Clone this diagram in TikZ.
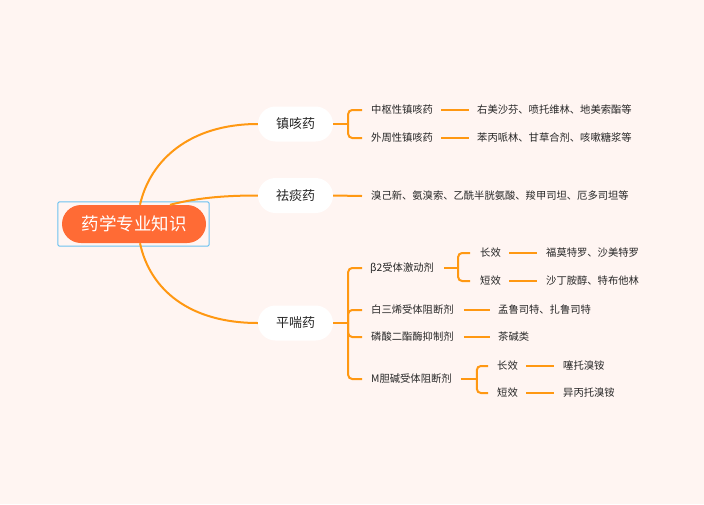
\documentclass[tikz,border=0pt]{standalone}
\usepackage{fontspec}
\setmainfont{Noto Sans CJK SC}
\definecolor{bg}{HTML}{FFF5F2}
\definecolor{rootc}{HTML}{FF6B35}
\definecolor{linec}{HTML}{FF9812}
\definecolor{txt}{HTML}{262626}
\definecolor{selc}{HTML}{6CC2F0}
\begin{document}
\begin{tikzpicture}[x=1pt,y=-1pt,
  rootnode/.style={fill=rootc, text=white, rounded corners=19pt, minimum width=144pt, minimum height=38pt, inner sep=0pt, font=\fontsize{17.5}{20}\selectfont},
  topic/.style={fill=white, text=txt, rounded corners=17.5pt, minimum width=75pt, minimum height=35pt, inner sep=0pt, font=\fontsize{13}{15}\selectfont},
  leaf/.style={anchor=west, inner xsep=0pt, inner ysep=2pt, text=txt, font=\fontsize{10.3}{12}\selectfont},
  link/.style={draw=linec, line width=2pt},
  brk/.style={link, rounded corners=4pt}]
\fill[bg] (0,0) rectangle (704,504);
\useasboundingbox (0,0) rectangle (704,504);

% nodes
\node[rootnode] (R) at (134,224) {药学专业知识};
\draw[selc, line width=1pt, rounded corners=2pt] ([xshift=-4pt,yshift=3pt]R.north west) rectangle ([xshift=3pt,yshift=-3pt]R.south east);
\node[topic] (A) at (295.5,124) {镇咳药};
\node[topic] (B) at (295.5,195.5) {祛痰药};
\node[topic] (C) at (295.5,323) {平喘药};

\node[leaf] (A1) at (371,110) {中枢性镇咳药};
\node[leaf] (A2) at (371,138) {外周性镇咳药};
\node[leaf] (A1a) at (477,110) {右美沙芬、喷托维林、地美索酯等};
\node[leaf] (A2a) at (477,138) {苯丙哌林、甘草合剂、咳嗽糖浆等};
\node[leaf] (B1) at (371,196) {溴己新、氨溴索、乙酰半胱氨酸、羧甲司坦、厄多司坦等};
\node[leaf] (C1) at (370,268) {β2受体激动剂};
\node[leaf] (C1a) at (480,253) {长效};
\node[leaf] (C1b) at (480,281) {短效};
\node[leaf] (C1a1) at (546,253) {福莫特罗、沙美特罗};
\node[leaf] (C1b1) at (546,281) {沙丁胺醇、特布他林};
\node[leaf] (C2) at (371,310) {白三烯受体阻断剂};
\node[leaf] (C2a) at (498,310) {孟鲁司特、扎鲁司特};
\node[leaf] (C3) at (371,337) {磷酸二酯酶抑制剂};
\node[leaf] (C3a) at (498,337) {茶碱类};
\node[leaf] (C4) at (371,379) {M胆碱受体阻断剂};
\node[leaf] (C4a) at (497,366) {长效};
\node[leaf] (C4b) at (497,393) {短效};
\node[leaf] (C4a1) at (563,366) {噻托溴铵};
\node[leaf] (C4b1) at (563,393) {异丙托溴铵};

% root connectors
\draw[link] ([xshift=6pt]R.north) .. controls (150,160) and (190,124) .. (A.west);
\draw[link] ([xshift=36pt]R.north) .. controls (200,197) and (230,195.5) .. (B.west);
\draw[link] ([xshift=6pt]R.south) .. controls (150,290) and (190,323) .. (C.west);

% 镇咳药
\draw[link] (A.east) -- ++(15,0) coordinate (ja);
\draw[brk] (ja) |- ([xshift=-9pt]A1.west);
\draw[brk] (ja) |- ([xshift=-9pt]A2.west);
\draw[link] ([xshift=8pt]A1.east) -- ([xshift=-8pt]A1a.west);
\draw[link] ([xshift=8pt]A2.east) -- ([xshift=-8pt]A2a.west);

% 祛痰药
\draw[link] (B.east) -- ([xshift=-9pt]B1.west);

% 平喘药
\draw[link] (C.east) -- ++(15,0) coordinate (jc);
\draw[brk] (jc) |- ([xshift=-8pt]C1.west);
\draw[brk] (jc) |- ([xshift=-9pt]C2.west);
\draw[brk] (jc) |- ([xshift=-9pt]C3.west);
\draw[brk] (jc) |- ([xshift=-9pt]C4.west);

\draw[link] ([xshift=10pt]C1.east) -- ++(14,0) coordinate (jc1);
\draw[brk] (jc1) |- ([xshift=-10pt]C1a.west);
\draw[brk] (jc1) |- ([xshift=-10pt]C1b.west);
\draw[link] ([xshift=8pt]C1a.east) -- ([xshift=-9pt]C1a1.west);
\draw[link] ([xshift=8pt]C1b.east) -- ([xshift=-9pt]C1b1.west);

\draw[link] ([xshift=10pt]C2.east) -- ([xshift=-8pt]C2a.west);
\draw[link] ([xshift=10pt]C3.east) -- ([xshift=-8pt]C3a.west);

\draw[link] ([xshift=9pt]C4.east) -- ++(16,0) coordinate (jc4);
\draw[brk] (jc4) |- ([xshift=-9pt]C4a.west);
\draw[brk] (jc4) |- ([xshift=-9pt]C4b.west);
\draw[link] ([xshift=8pt]C4a.east) -- ([xshift=-9pt]C4a1.west);
\draw[link] ([xshift=8pt]C4b.east) -- ([xshift=-9pt]C4b1.west);
\end{tikzpicture}
\end{document}
